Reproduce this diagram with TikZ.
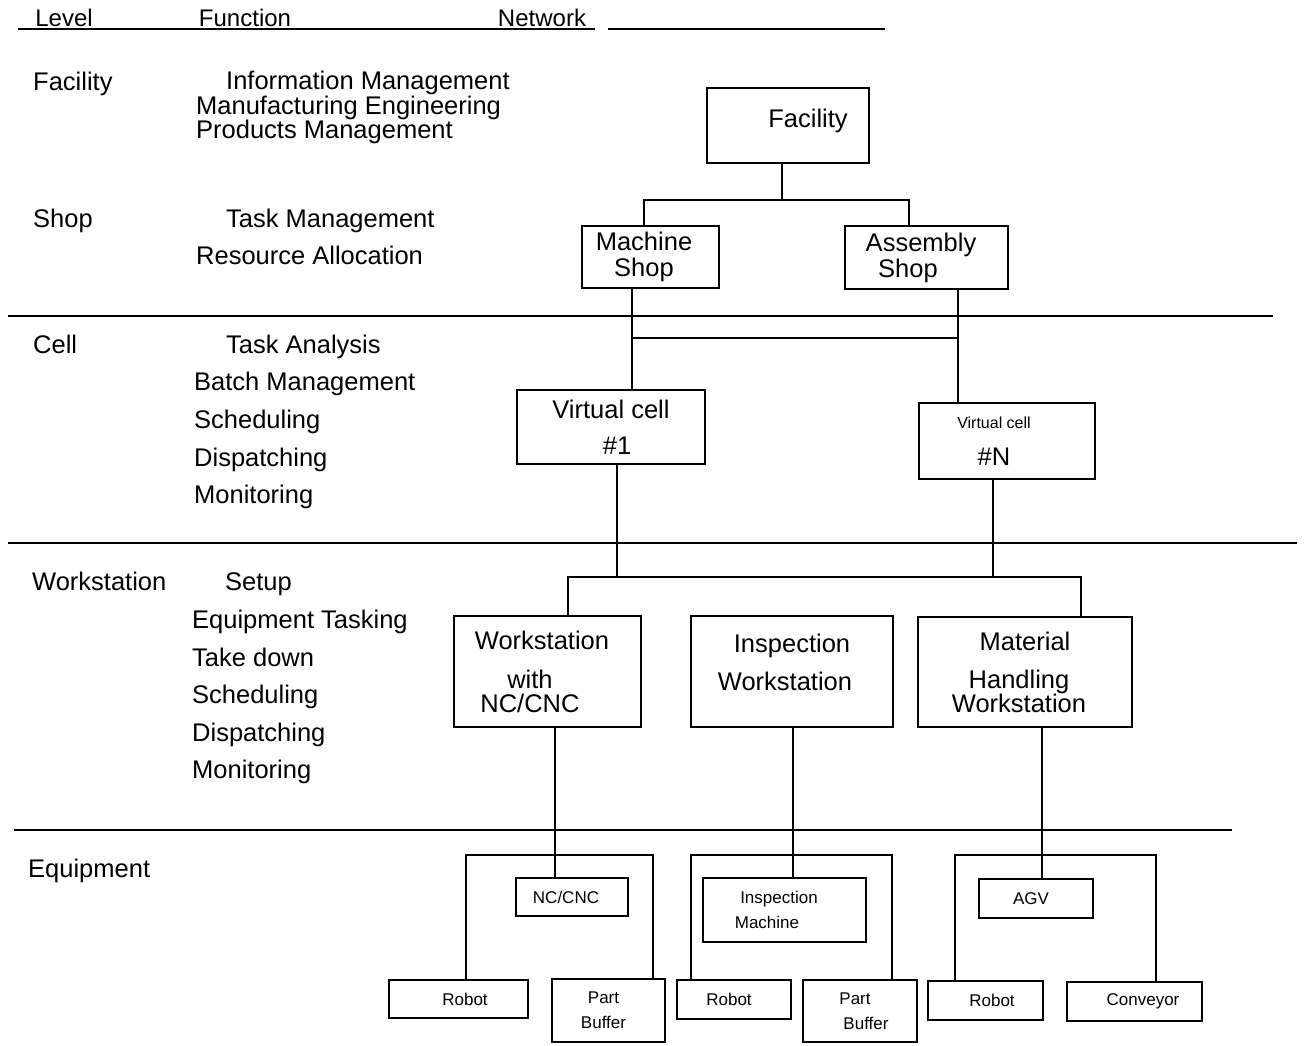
\documentclass[tikz,border=0pt]{standalone}
\usepackage{fontspec}
\setmainfont{Liberation Sans}

\tikzset{
  big/.style={font=\fontsize{25.5}{28}\selectfont},
  sml/.style={font=\fontsize{17}{25}\selectfont},
  hd/.style={font=\fontsize{24}{28}\selectfont, anchor=base, inner sep=0pt},
  lvl/.style={big, anchor=west, inner sep=0pt, text height=18pt, text depth=5pt},
  fn/.style={lvl},
  box/.style={draw, line width=1.3pt, inner sep=0pt, align=center},
  rule/.style={line width=1.3pt},
  wire/.style={line width=1.3pt},
}

\begin{document}
\begin{tikzpicture}[x=1pt,y=-1pt]
\useasboundingbox (0,0) rectangle (1304,1045);

% header
\node[hd] (hlev) at (64,26) {Level};
\node[hd] (hfun) at (245,26) {Function};
\node[hd] (hnet) at (542,26) {Network};
\draw[rule] (18,29) -- (595,29);
\draw[rule] (608,29) -- (885,29);

% level rules
\draw[rule] (8,316) -- (1273,316);
\draw[rule] (8,543) -- (1297,543);
\draw[rule] (14,830) -- (1232,830);

% levels
\node[lvl] (lfac) at (33,84) {Facility};
\node[lvl] (lshop) at (33,221) {Shop};
\node[lvl] (lcell) at (33,347) {Cell};
\node[lvl] (lws) at (32,584) {Workstation};
\node[lvl] (leq) at (28,871) {Equipment};

% functions
\node[fn] (finfo) at (226,83) {Information Management};
\node[fn] (fmfg) at (196,108) {Manufacturing Engineering};
\node[fn] (fprod) at (196,132) {Products Management};
\node[fn] (ftask) at (226,221) {Task Management};
\node[fn] (fres) at (196,258) {Resource Allocation};
\node[fn] (fana) at (226,347) {Task Analysis};
\node[fn] (fbatch) at (194,384) {Batch Management};
\node[fn] (fsch) at (194,422) {Scheduling};
\node[fn] (fdis) at (194,460) {Dispatching};
\node[fn] (fmon) at (194,497) {Monitoring};
\node[fn] (fset) at (225,584) {Setup};
\node[fn] (feqt) at (192,622) {Equipment Tasking};
\node[fn] (ftake) at (192,660) {Take down};
\node[fn] (fsch2) at (192,697) {Scheduling};
\node[fn] (fdis2) at (192,735) {Dispatching};
\node[fn] (fmon2) at (192,772) {Monitoring};

% network boxes
\node[box, big, minimum width=162, minimum height=75, text height=18pt, text depth=15pt] (fac) at (788,125.5) {\hspace*{40pt}Facility};
\node[box, big, minimum width=137, minimum height=62] (mach) at (650.5,257) {\hspace*{-13pt}Machine\\[-2pt]\hspace*{-13pt}Shop};
\node[box, big, minimum width=163, minimum height=63] (asm) at (926.5,257.5) {\hspace*{-11pt}Assembly\\[-2pt]\hspace*{-37pt}Shop};
\node[box, big, minimum width=188, minimum height=74] (vc1) at (611,427) {Virtual cell\\[8pt]\hspace*{12pt}\#1};
\node[box, big, minimum width=176, minimum height=76] (vcn) at (1007,441) {{\fontsize{16}{18}\selectfont\hspace*{-26pt}Virtual cell}\\[9pt]\hspace*{-26pt}\#N};
\node[box, big, minimum width=187, minimum height=111] (ws1) at (547.5,671.5) {\hspace*{-11pt}Workstation\\[11pt]\hspace*{-35pt}with\\[-4pt]\hspace*{-35pt}NC/CNC};
\node[box, big, minimum width=202, minimum height=111, text depth=19pt] (ins) at (792,671.5) {Inspection\\[10pt]\hspace*{-14pt}Workstation};
\node[box, big, minimum width=214, minimum height=110] (mh) at (1025,672) {Material\\[10pt]\hspace*{-12pt}Handling\\[-4pt]\hspace*{-12pt}Workstation};

\node[box, sml, minimum width=112, minimum height=38] (nc) at (572,897) {\hspace*{-12pt}NC/CNC};
\node[box, sml, minimum width=163, minimum height=64] (insm) at (784.5,910) {\hspace*{-11pt}Inspection\\\hspace*{-35pt}Machine};
\node[box, sml, minimum width=114, minimum height=39] (agv) at (1036,898.5) {\hspace*{-10pt}AGV};
\node[box, sml, minimum width=139, minimum height=38] (rob1) at (458.5,999) {\hspace*{13pt}Robot};
\node[box, sml, minimum width=113, minimum height=63] (pb1) at (608.5,1010.5) {\hspace*{-10pt}Part\\\hspace*{-10pt}Buffer};
\node[box, sml, minimum width=114, minimum height=39] (rob2) at (734,999.5) {\hspace*{-10pt}Robot};
\node[box, sml, minimum width=114, minimum height=62] (pb2) at (860,1011) {\hspace*{-10pt}Part\\\hspace*{12pt}Buffer};
\node[box, sml, minimum width=115, minimum height=39] (rob3) at (985.5,1000.5) {\hspace*{13pt}Robot};
\node[box, sml, minimum width=135, minimum height=39] (conv) at (1134.5,1001.5) {\hspace*{17pt}Conveyor};

% facility to shops
\coordinate (fb) at (782,200);
\coordinate (fbl) at (644,200);
\coordinate (fbr) at (909,200);
\draw[wire] (fac.south -| fb) -- (fb);
\draw[wire] (mach.north -| fbl) -- (fbl) -- (fbr) -- (asm.north -| fbr);

% shops to cells
\coordinate (cbl) at (632,338);
\coordinate (cbr) at (958,338);
\draw[wire] (mach.south -| cbl) -- (vc1.north -| cbl);
\draw[wire] (asm.south -| cbr) -- (vcn.north -| cbr);
\draw[wire] (cbl) -- (cbr);

% cells to workstations
\coordinate (wb1) at (617,577);
\coordinate (wb2) at (993,577);
\coordinate (wbl) at (568,577);
\coordinate (wbr) at (1081,577);
\draw[wire] (vc1.south -| wb1) -- (wb1);
\draw[wire] (vcn.south -| wb2) -- (wb2);
\draw[wire] (ws1.north -| wbl) -- (wbl) -- (wbr) -- (mh.north -| wbr);

% workstations to equipment
\coordinate (e1) at (555,855);
\coordinate (e1l) at (466,855);
\coordinate (e1r) at (653,855);
\draw[wire] (ws1.south -| e1) -- (nc.north -| e1);
\draw[wire] (rob1.north -| e1l) -- (e1l) -- (e1r) -- (pb1.north -| e1r);

\coordinate (e2) at (793,855);
\coordinate (e2l) at (691,855);
\coordinate (e2r) at (892,855);
\draw[wire] (ins.south -| e2) -- (insm.north -| e2);
\draw[wire] (rob2.north -| e2l) -- (e2l) -- (e2r) -- (pb2.north -| e2r);

\coordinate (e3) at (1042,855);
\coordinate (e3l) at (955,855);
\coordinate (e3r) at (1156,855);
\draw[wire] (mh.south -| e3) -- (agv.north -| e3);
\draw[wire] (rob3.north -| e3l) -- (e3l) -- (e3r) -- (conv.north -| e3r);
\end{tikzpicture}
\end{document}
